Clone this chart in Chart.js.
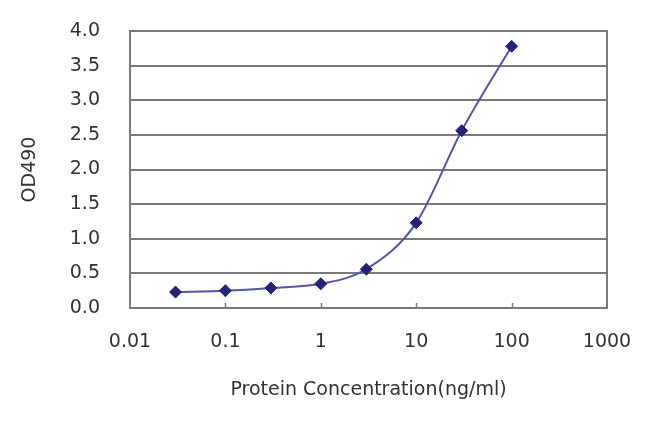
<!DOCTYPE html>
<html>
<head>
<meta charset="utf-8">
<title>OD490</title>
<script src="https://cdn.jsdelivr.net/npm/chart.js@4.4.1/dist/chart.umd.min.js"></script>
<style>
  html, body { margin: 0; padding: 0; background: #fff; }
  #wrap { width: 650px; height: 421px; }
</style>
</head>
<body>
<div id="wrap"><canvas id="chart" width="650" height="421"></canvas></div>
<script>
'use strict';

// ─── Datos ───────────────────────────────────────────────────────────────────
const concentrations = [0.03, 0.1, 0.3, 1, 3, 10, 30, 100];
const odValues = [0.23, 0.25, 0.29, 0.35, 0.56, 1.23, 2.56, 3.78];
const xTickValues = [0.01, 0.1, 1, 10, 100, 1000];
const xTickLabels = ['0.01', '0.1', '1', '10', '100', '1000'];
const yTickLabels = ['0.0', '0.5', '1.0', '1.5', '2.0', '2.5', '3.0', '3.5', '4.0'];

const FONT = "'DejaVu Sans', sans-serif";
const GRID = '#7a7a7a';
const TEXT = '#333';

// marco del área + marcas cortas en el eje X
const plotFrame = {
  id: 'plotFrame',
  afterDatasetsDraw(chart) {
    const { ctx, chartArea: a, scales: { x } } = chart;
    ctx.save();
    ctx.strokeStyle = GRID;
    ctx.lineWidth = 2;
    ctx.strokeRect(a.left, a.top, a.right - a.left, a.bottom - a.top);
    ctx.lineWidth = 1.5;
    xTickValues.slice(1, -1).forEach(v => {
      const px = Math.round(x.getPixelForValue(v)) + 0.5;
      ctx.beginPath();
      ctx.moveTo(px, a.bottom);
      ctx.lineTo(px, a.bottom - 5);
      ctx.stroke();
    });
    ctx.restore();
  }
};

new Chart(document.getElementById('chart'), {
  type: 'line',
  data: {
    datasets: [{
      data: concentrations.map((c, i) => ({ x: c, y: odValues[i] })),
      borderColor: '#5656aa',
      borderWidth: 2,
      cubicInterpolationMode: 'monotone',
      pointStyle: 'rectRot',
      pointRadius: 6,
      pointBackgroundColor: '#232378',
      pointBorderColor: '#232378',
      pointBorderWidth: 1,
      clip: false,
    }],
  },
  options: {
    responsive: false,
    animation: false,
    layout: { padding: { top: 31, right: 43, left: 0, bottom: 0 } },
    plugins: { legend: { display: false }, tooltip: { enabled: false } },
    scales: {
      x: {
        type: 'logarithmic',
        min: 0.01,
        max: 1000,
        afterBuildTicks: s => { s.ticks = xTickValues.map(v => ({ value: v })); },
        afterFit: s => { s.height = 113; s.paddingLeft = 0; s.paddingRight = 26; },
        grid: { display: false, drawTicks: false },
        border: { display: false },
        ticks: {
          autoSkip: false,
          maxRotation: 0,
          padding: 23,
          color: TEXT,
          font: { family: FONT, size: 19 },
          callback: (v) => {
            const i = xTickValues.findIndex(t => Math.abs(Math.log10(t) - Math.log10(v)) < 1e-6);
            return i >= 0 ? xTickLabels[i] : '';
          },
        },
        title: {
          display: true,
          text: 'Protein Concentration(ng/ml)',
          color: TEXT,
          font: { family: FONT, size: 19 },
          padding: { top: 0, bottom: 20 },
        },
      },
      y: {
        min: 0,
        max: 4,
        afterFit: s => { s.width = 130; s.paddingTop = 12; s.paddingBottom = 12; },
        grid: { color: GRID, lineWidth: 2, drawTicks: false },
        border: { display: false },
        ticks: {
          stepSize: 0.5,
          padding: 30,
          color: TEXT,
          font: { family: FONT, size: 19 },
          callback: (v) => yTickLabels[Math.round(v / 0.5)],
        },
        title: {
          display: true,
          text: 'OD490',
          color: TEXT,
          font: { family: FONT, size: 19 },
          padding: { top: 19, bottom: 0 },
        },
      },
    },
  },
  plugins: [plotFrame],
});
</script>
</body>
</html>
